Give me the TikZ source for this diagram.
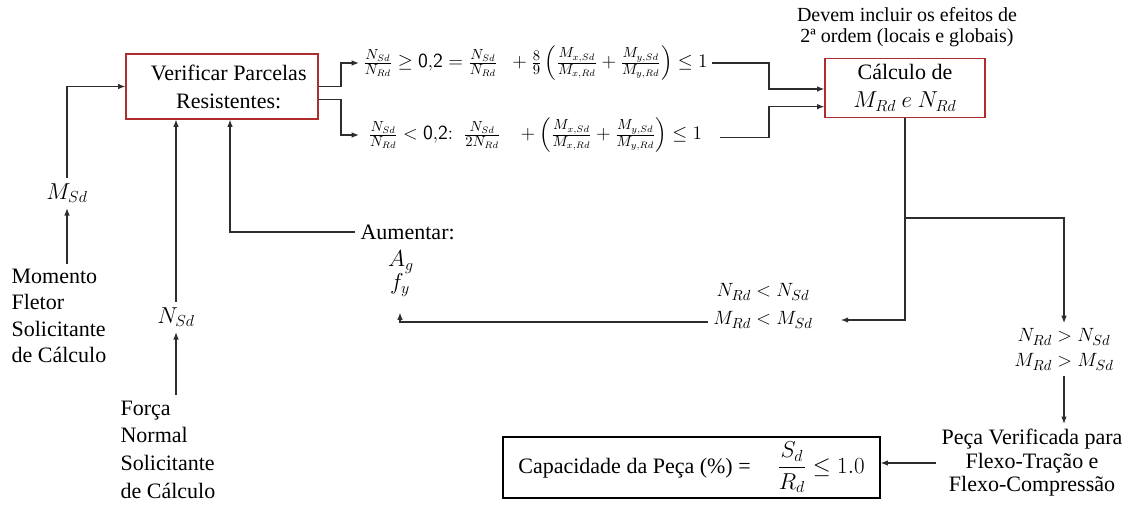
\documentclass[tikz,border=0pt]{standalone}
\usepackage{amsmath}
\usepackage{fontspec}
\setmainfont{Liberation Serif}
\newfontfamily\tnr{Liberation Serif}
\usetikzlibrary{arrows.meta,calc}
\definecolor{boxred}{RGB}{175,45,45}
\definecolor{ln}{RGB}{45,45,45}
\begin{document}
\begin{tikzpicture}[x=0.75pt,y=-0.75pt,
  txt/.style={font=\tnr\fontsize{16.5}{21}\selectfont, inner sep=4pt},
  mth/.style={font=\tnr\fontsize{15}{18}\selectfont, inner sep=4pt},
  redbox/.style={draw=boxred, line width=0.9pt},
  blkbox/.style={draw=black, line width=0.9pt},
  conn/.style={draw=ln, line width=0.9pt},
  arr/.style={conn, -{Latex[length=5.5pt,width=4.2pt]}},
  frm/.style={font=\tnr\fontsize{15}{17}\selectfont, inner sep=3pt, anchor=west}]
\useasboundingbox (0,0) rectangle (1134,506);

% boxes
\node[redbox, minimum width=144pt, minimum height=48.75pt, inner sep=0pt] (ver) at (222,86.5) {};
\node[txt, align=center] (vert) at ([xshift=5pt]ver.center) {Verificar Parcelas\\Resistentes:};
\node[redbox, txt, align=center, minimum width=120pt, minimum height=44.25pt, inner sep=0pt] (calc) at (905,88) {Cálculo de\\$M_{Rd}\ e\ N_{Rd}$};
\node[font=\tnr\fontsize{15}{15.5}\selectfont, align=center] (note) at (907,27) {Devem incluir os efeitos de\\2ª ordem (locais e globais)};
\node[blkbox, txt, minimum width=282.75pt, minimum height=45.75pt, inner sep=0pt] (cap) at (691.5,467.5) {Capacidade da Peça (\%) =\hspace{20pt}$\dfrac{S_d}{R_d} \leq 1.0$};

% formulas
\node[frm] (f1) at (359,63) {$\frac{N_{Sd}}{N_{Rd}} \geq \mathsf{0{,}2} = \frac{N_{Sd}}{N_{Rd}} \;\;+ \frac{8}{9}\left(\frac{M_{x,Sd}}{M_{x,Rd}} + \frac{M_{y,Sd}}{M_{y,Rd}}\right) \leq 1$};
\node[frm] (f2) at (359,135) {$\;\frac{N_{Sd}}{N_{Rd}} < \mathsf{0{,}2}\mathsf{:}\;\; \frac{N_{Sd}}{2N_{Rd}} \;\;\;+ \left(\frac{M_{x,Sd}}{M_{x,Rd}} + \frac{M_{y,Sd}}{M_{y,Rd}}\right) \leq 1$};

% left inputs
\node[txt] (msd) at (67,193) {$M_{Sd}$};
\node[txt, align=left, anchor=west, font=\tnr\fontsize{16.5}{19.7}\selectfont] (mom) at (6,316) {Momento\\Fletor\\Solicitante\\de Cálculo};
\node[txt] (nsd) at (176,317) {$N_{Sd}$};
\node[txt, align=left, anchor=west, font=\tnr\fontsize{16.5}{20.7}\selectfont] (forca) at (115,449.5) {Força\\Normal\\Solicitante\\de Cálculo};
\node[txt, anchor=west] (aum) at (355,232) {Aumentar:};
\node[txt] (ag) at (401,262) {$A_g$};
\node[txt] (fy) at (400,285) {$f_y$};

% results
\node[mth] (lt1) at (763,292) {$N_{Rd} < N_{Sd}$};
\node[mth] (lt2) at (763,320) {$M_{Rd} < M_{Sd}$};
\node[mth] (gt1) at (1064,337) {$N_{Rd} > N_{Sd}$};
\node[mth] (gt2) at (1064,362) {$M_{Rd} > M_{Sd}$};
\node[txt, align=center, font=\tnr\fontsize{16.5}{17.6}\selectfont] (peca) at (1032,463) {Peça Verificada para\\Flexo-Tração e\\Flexo-Compressão};

% connectors
\draw[arr] (msd.north) |- (ver.west);
\draw[arr] (mom.north -| msd.south) -- (msd.south);
\draw[arr] (nsd.north) -- (nsd.north |- ver.south);
\draw[arr] (forca.north -| nsd.south) -- (nsd.south);
\draw[arr] (aum.west) -| ([xshift=6pt]ver.south);

\coordinate (bx) at (341,86.5);
\coordinate (o2) at ([yshift=-9.5pt]ver.east);
\draw[arr] (ver.east) -- (ver.east -| bx) |- (f1.west);
\draw[arr] (o2) -- (o2 -| bx) |- (f2.west);

\coordinate (mx) at (769,0);
\coordinate (i1) at ([yshift=-0.75pt]calc.west);
\coordinate (i2) at ([yshift=-14pt]calc.west);
\draw[arr] (f1.east) -- (f1.east -| mx) |- (i1);
\draw[arr] ([xshift=10pt,yshift=-2pt]f2.east) -- ([yshift=-2pt]f2.east -| mx) |- (i2);

\coordinate (j) at (calc.south |- 0,218);
\draw[conn, line width=1.8pt] (calc.south) -- (j);
\draw[arr] (j) |- ([xshift=17pt]lt2.east);
\draw[arr] (j) -| (gt1.north);
\draw[arr] (gt2.south) -- (gt2.south |- peca.north);
\draw[arr] ([yshift=-1.5pt]lt2.west) -| ([yshift=-8pt]fy.south);
\draw[arr] (peca.west) -- (peca.west -| cap.east);
\end{tikzpicture}
\end{document}
